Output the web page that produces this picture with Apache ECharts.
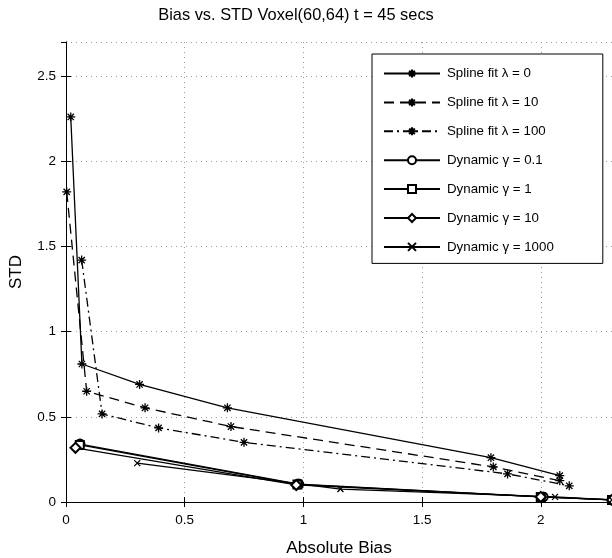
<!DOCTYPE html>
<html>
<head>
<meta charset="utf-8">
<script src="https://cdn.jsdelivr.net/npm/echarts@6/dist/echarts.min.js"></script>
<style>
  html, body { margin: 0; padding: 0; background: #fff; }
  #chart { width: 612px; height: 558px; }
</style>
</head>
<body>
<div id="chart"></div>
<script>
// Absolute bias vs. standard deviation for voxel (60,64) at t = 45 s
const titleText = 'Bias vs. STD Voxel(60,64) t = 45 secs';
const xAxisName = 'Absolute Bias';
const yAxisName = 'STD';

const seriesNames = [
  'Spline fit λ = 0',
  'Spline fit λ = 10',
  'Spline fit λ = 100',
  'Dynamic γ = 0.1',
  'Dynamic γ = 1',
  'Dynamic γ = 10',
  'Dynamic γ = 1000'
];

// Spline fit results
const splineL0Bias = [0.020, 0.067, 0.310, 0.680, 1.790, 2.080];
const splineL0Std  = [2.26, 0.81, 0.69, 0.553, 0.26, 0.155];
const splineL10Bias = [0.003, 0.087, 0.333, 0.695, 1.800, 2.080];
const splineL10Std  = [1.82, 0.65, 0.553, 0.443, 0.206, 0.125];
const splineL100Bias = [0.066, 0.152, 0.390, 0.750, 1.860, 2.120];
const splineL100Std  = [1.42, 0.517, 0.435, 0.350, 0.165, 0.095];

// Dynamic model results
const dynG01Bias = [0.059, 0.980, 2.010, 2.300];
const dynG01Std  = [0.340, 0.105, 0.030, 0.012];
const dynG1Bias = [0.058, 0.975, 2.000, 2.300];
const dynG1Std  = [0.335, 0.103, 0.030, 0.012];
const dynG10Bias = [0.040, 0.970, 2.000, 2.300];
const dynG10Std  = [0.318, 0.100, 0.030, 0.012];
const dynG1000Bias = [0.300, 1.156, 2.060, 2.300];
const dynG1000Std  = [0.228, 0.076, 0.030, 0.012];

const xTicks = [0, 0.5, 1, 1.5, 2];
const yTicks = [0, 0.5, 1, 1.5, 2, 2.5];

const FONT = "'Liberation Sans', Arial, Helvetica, sans-serif";
const ASTERISK = 'path://M5,0L5,10M0,5L10,5M1.5,1.5L8.5,8.5M8.5,1.5L1.5,8.5';
const CROSS = 'path://M0,0L10,10M10,0L0,10';

function pairs(xs, ys) { return xs.map((x, i) => [x, ys[i]]); }

function makeSeries(name, xs, ys, symbol, size, dash) {
  const stroked = symbol.startsWith('path://');
  return {
    name: name,
    type: 'line',
    data: pairs(xs, ys),
    symbol: symbol,
    symbolSize: size,
    showAllSymbol: true,
    clip: false,
    lineStyle: { color: '#000', width: 1.3, type: dash },
    itemStyle: stroked
      ? { color: '#000', borderColor: '#000', borderWidth: 1.3 }
      : { color: '#000', borderColor: '#000', borderWidth: 1.6 },
    emphasis: { disabled: true },
    z: 3
  };
}

function fmt(list) {
  return v => (list.some(t => Math.abs(t - v) < 1e-9) ? String(v) : '');
}

const chart = echarts.init(document.getElementById('chart'), null, { renderer: 'canvas' });

const axisLine = { show: true, lineStyle: { color: '#000', width: 1 } };
const tick = { show: true, inside: true, length: 5, lineStyle: { color: '#000' } };
const grid = { show: true, lineStyle: { color: '#999', type: [1, 4], width: 1 } };

chart.setOption({
  animation: false,
  backgroundColor: '#fff',
  textStyle: { fontFamily: FONT },
  title: {
    text: titleText,
    left: 291, top: 2, textAlign: 'center',
    textStyle: { fontFamily: FONT, fontSize: 16.4, fontWeight: 'normal', color: '#000' }
  },
  grid: { left: 66, top: 42, right: 0, bottom: 56, containLabel: false, outerBoundsMode: 'none' },
  xAxis: [{
    type: 'value', min: 0, max: 2.3, interval: 0.5,
    name: xAxisName, nameLocation: 'middle', nameGap: 38,
    nameTextStyle: { fontFamily: FONT, fontSize: 17.3, color: '#000' },
    axisLine: axisLine, axisTick: tick,
    axisLabel: { color: '#000', fontFamily: FONT, fontSize: 13.5, margin: 11, formatter: fmt(xTicks), showMaxLabel: false },
    splitLine: grid
  }, {
    type: 'value', position: 'top', min: 0, max: 2.3, interval: 0.5,
    axisLine: axisLine, axisTick: tick, axisLabel: { show: false }, splitLine: { show: false }
  }],
  yAxis: [{
    type: 'value', min: 0, max: 2.7, interval: 0.5,
    name: yAxisName, nameLocation: 'middle', nameGap: 41,
    nameTextStyle: { fontFamily: FONT, fontSize: 17, color: '#000' },
    axisLine: axisLine, axisTick: tick,
    axisLabel: { color: '#000', fontFamily: FONT, fontSize: 13.5, margin: 10, formatter: fmt(yTicks), showMaxLabel: false },
    splitLine: grid
  }, {
    type: 'value', position: 'right', min: 0, max: 2.7, interval: 0.5,
    axisLine: axisLine, axisTick: tick, axisLabel: { show: false }, splitLine: { show: false }
  }],
  legend: {
    orient: 'vertical',
    left: 372, top: 54,
    padding: [13, 49, 10, 11],
    itemWidth: 56, itemHeight: 10, itemGap: 15.9,
    backgroundColor: '#fff',
    borderColor: '#000', borderWidth: 1,
    textStyle: { fontFamily: FONT, fontSize: 13.3, lineHeight: 12, color: '#000', padding: [0, 0, 0, 2] },
    data: seriesNames
  },
  series: [
    makeSeries(seriesNames[0], splineL0Bias, splineL0Std, ASTERISK, 9, 'solid'),
    makeSeries(seriesNames[1], splineL10Bias, splineL10Std, ASTERISK, 9, [10, 6]),
    makeSeries(seriesNames[2], splineL100Bias, splineL100Std, ASTERISK, 9, [9, 4, 2, 4]),
    makeSeries(seriesNames[3], dynG01Bias, dynG01Std, 'emptyCircle', 9, 'solid'),
    makeSeries(seriesNames[4], dynG1Bias, dynG1Std, 'emptyRect', 8, 'solid'),
    makeSeries(seriesNames[5], dynG10Bias, dynG10Std, 'emptyDiamond', 10, 'solid'),
    makeSeries(seriesNames[6], dynG1000Bias, dynG1000Std, CROSS, 6, 'solid')
  ]
});
</script>
</body>
</html>
